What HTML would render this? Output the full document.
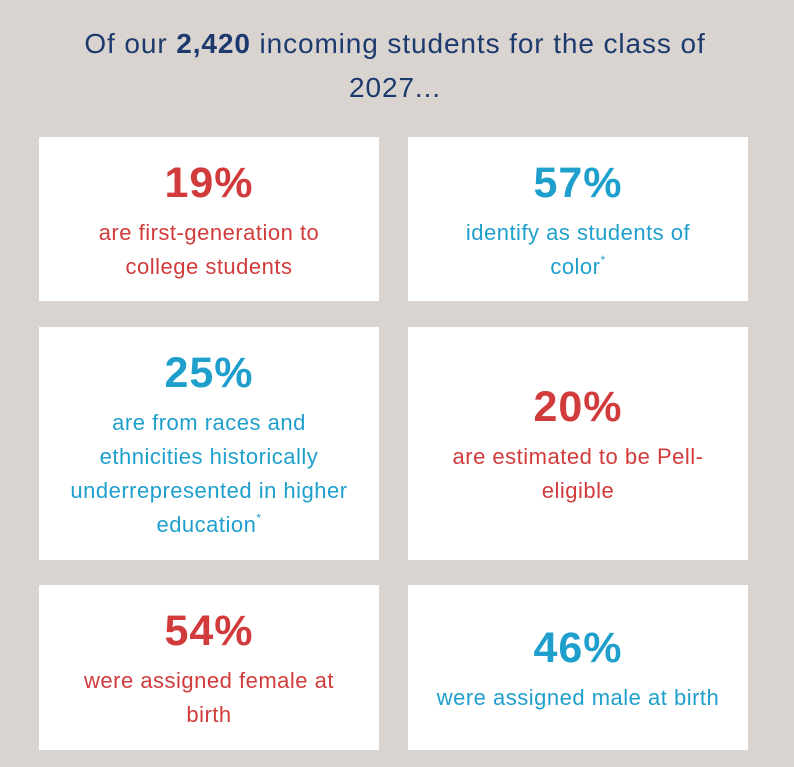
<!DOCTYPE html>
<html><head><style>
body{margin:0;width:794px;height:767px;background:#d9d4d0;font-family:"Liberation Sans",sans-serif;position:relative;overflow:hidden}
.h{position:absolute;left:0;width:790px;text-align:center;color:#1d3a6e;font-size:28px;letter-spacing:0.9px;line-height:44px;top:22px}
.h b{font-weight:bold}
.box{position:absolute;background:#fff;display:flex;flex-direction:column;align-items:center;justify-content:center;text-align:center;padding-top:3px;box-sizing:border-box}
.n{font-size:43px;font-weight:bold;line-height:50px;margin-bottom:8px;letter-spacing:1px}
.t{font-size:22px;line-height:34px;letter-spacing:0.5px}
.r{color:#d13b3b}.b{color:#1e9fcc}
sup{font-size:12px;line-height:0;vertical-align:10px}
</style></head><body>
<div class="h">Of our <b>2,420</b> incoming students for the class of<br>2027...</div>
<div class="box r" style="left:39px;top:137px;width:340px;height:164px"><div class="n">19%</div><div class="t">are first-generation to<br>college students</div></div>
<div class="box b" style="left:408px;top:137px;width:340px;height:164px"><div class="n">57%</div><div class="t">identify as students of<br>color<sup>*</sup></div></div>
<div class="box b" style="left:39px;top:327px;width:340px;height:233px"><div class="n">25%</div><div class="t">are from races and<br>ethnicities historically<br>underrepresented in higher<br>education<sup>*</sup></div></div>
<div class="box r" style="left:408px;top:327px;width:340px;height:233px"><div class="n">20%</div><div class="t">are estimated to be Pell-<br>eligible</div></div>
<div class="box r" style="left:39px;top:585px;width:340px;height:165px"><div class="n">54%</div><div class="t">were assigned female at<br>birth</div></div>
<div class="box b" style="left:408px;top:585px;width:340px;height:165px"><div class="n">46%</div><div class="t">were assigned male at birth</div></div>
</body></html>
